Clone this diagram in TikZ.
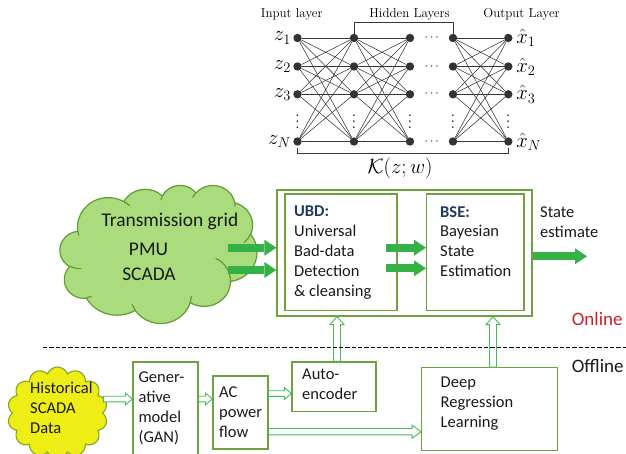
\documentclass[tikz,border=0pt]{standalone}
\usepackage{fontspec}
\newfontfamily\sansfont{Carlito}
\usetikzlibrary{shapes.symbols,arrows.meta,calc}

\definecolor{boxgreen}{RGB}{108,163,62}
\definecolor{cloudfill}{RGB}{170,220,125}
\definecolor{cloudline}{RGB}{98,156,48}
\definecolor{fatgreen}{RGB}{52,178,72}
\definecolor{hollowgreen}{RGB}{72,188,86}
\definecolor{sunny}{RGB}{238,238,22}
\definecolor{sunnyline}{RGB}{130,165,40}
\definecolor{navy}{RGB}{32,56,100}
\definecolor{onlinered}{RGB}{200,32,40}
\definecolor{nngray}{RGB}{55,55,55}
\definecolor{ink}{RGB}{25,25,25}

\tikzset{
  neuron/.style={circle, fill=black!80, inner sep=0pt, minimum size=8.4pt},
  synapse/.style={draw=nngray, line width=0.55pt},
  bracketline/.style={draw=nngray, line width=0.7pt},
  nnlabel/.style={font=\fontsize{13}{15}\selectfont, inner sep=0pt},
  nnmath/.style={font=\fontsize{21}{24}\selectfont, inner sep=1pt},
  gbox/.style={draw=boxgreen, line width=1.3pt, inner sep=0pt},
  btext/.style={font=\sansfont\fontsize{16.5}{19.8}\selectfont, text=ink, align=left, inner sep=0pt, anchor=north west},
  bltext/.style={font=\sansfont\fontsize{16.5}{20}\selectfont, text=ink, align=left, inner sep=0pt, anchor=north west},
  ctext/.style={font=\sansfont\fontsize{19.4}{23}\selectfont, text=ink, inner sep=0pt, anchor=base},
  fat/.style={draw=fatgreen, line width=8pt, -{Triangle[length=12pt, width=16pt, line width=0pt]}},
  hollow/.style n args={3}{draw=hollowgreen, line width=0.9pt, fill=white, line join=miter,
    to path={let \p1=(\tikztostart), \p2=(\tikztotarget),
      \n1={atan2(\y2-\y1,\x2-\x1)}, \n2={veclen(\x2-\x1,\y2-\y1)} in
      {[shift={(\p1)}, rotate=\n1]
        (0pt,#1pt) -- ({(\n2-#3)*1pt},#1pt) -- ({(\n2-#3)*1pt},#2pt) -- ({\n2*1pt},0pt)
        -- ({(\n2-#3)*1pt},-#2pt) -- ({(\n2-#3)*1pt},-#1pt) -- (0pt,-#1pt) -- cycle}}},
  % elliptic arc given by its ray start angle and sweep
  puff/.style n args={4}{start angle={atan2(#1*sin(#3),#2*cos(#3))},
    delta angle={#4 + Mod(atan2(#1*sin(#3+#4),#2*cos(#3+#4)) - atan2(#1*sin(#3),#2*cos(#3)) - #4 + 180, 360) - 180},
    x radius=#1, y radius=#2},
}

\begin{document}
\begin{tikzpicture}[x=1pt,y=-1pt]
\useasboundingbox (0,0) rectangle (626,454);

% ---------------- neural network ----------------
\foreach \c/\x in {i/297.5,a/354,b/410,c/453,o/508.3}
  \foreach \r/\y in {1/38,2/66.5,3/94.3,N/141.5}
    \node[neuron] (\c\r) at (\x,\y) {};
\foreach \s/\t in {i/a,a/b,c/o}
  \foreach \p in {1,2,3,N}
    \foreach \q in {1,2,3,N}
      \draw[synapse] (\s\p) -- (\t\q);
\foreach \r/\y in {1/38,2/66.5,3/94.3,N/141.5}
  \node[font=\fontsize{12}{14}\selectfont, inner sep=0pt] (hd\r) at (431.7,\y) {$\cdots$};
\foreach \c/\x in {i/297.5,a/354,b/410,c/453,o/508.3}
  \node[inner sep=0pt] (vd\c) at (\x,117.5) {\scalebox{1.5}{$\vdots$}};

\foreach \r/\s in {1/1,2/2,3/3,N/N}{
  \node[nnmath, anchor=east, xshift=-1pt] (zl\r) at (i\r.west) {$z_{\s}$};
  \node[nnmath, anchor=west, xshift=2.5pt] (xl\r) at (o\r.east) {$\hat{x}_{\s}$};
}

\node[nnlabel, anchor=base] (inlab) at (291.7,18) {Input layer};
\node[nnlabel, anchor=base] (hidlab) at (409.5,18) {Hidden Layers};
\node[nnlabel, anchor=base] (outlab) at (521.5,18) {Output Layer};

\draw[bracketline] (a1.north) -- ++(0,-10.8) -| (c1.north);
\draw[bracketline] (iN.south) ++(0,2) -- ++(0,5.6) -| ($(oN.south)+(0,2)$);
\node[nnmath, font=\fontsize{22}{25}\selectfont] (kmap) at (400,168) {$\mathcal{K}(z;w)$};

% ---------------- online part ----------------
% cloud outline and its inner seams, in a 432 x 432 frame
\begin{scope}[shift={(60,185)}, x=0.45602pt, y=-0.31944pt]
  \draw[draw=cloudline, fill=cloudfill, line width=1.2pt] (39,143.7)
    \foreach \w/\h/\a/\s in {67.53/91.90/-190.4875/123.7805, 53.33/72.67/-144.1024/89.9452,
      43.65/59.45/-145.8079/99.7230, 48.57/65.95/-130.9861/117.2417,
      53.33/72.73/-78.7089/109.0269, 67.75/92.20/-46.2673/130.2690,
      57.85/78.67/0.6250/114.0333, 67.52/92.15/22.4516/115.1726,
      77.20/105.43/66.2426/75.7110, 43.60/59.18/-274.9421/146.7356,
      43.45/59.45/-246.8285/152.5189}
    { arc[puff={\w}{\h}{\a}{\s}] } -- cycle;
  \draw[draw=cloudline, line width=1.2pt]
    \foreach \px/\py/\w/\h/\a/\s in {46.93/261.77/43.45/59.45/86.742/26.4295,
      69.28/348.99/43.60/59.18/73.6105/11.4475, 164.78/390.90/67.52/92.15/137.6242/14.0811,
      288.27/347.51/67.52/92.15/6.4533/15.9984, 341.29/229.54/57.85/78.67/-70.2924/70.9174,
      417.98/153.54/53.33/72.73/30.318/27.7515, 383.24/54.26/48.57/65.95/-13.7443/14.8589,
      290.78/39.52/48.57/65.95/-149.1815/18.1954, 221.41/47.20/43.65/59.45/-163.4943/17.6864,
      140.00/51.92/67.53/91.90/-66.7070/12.3194, 41.27/157.89/67.53/91.90/157.6544/11.8582}
    { (\px,\py) arc[puff={\w}{\h}{\a}{\s}] };
\end{scope}
\coordinate (grid) at (158.5,254);
\node[ctext] (tg) at (170,226.5) {Transmission grid};
\node[ctext] (pmu) at (148.5,256) {PMU};
\node[ctext] (scada) at (149,280.5) {SCADA};

\node[gbox, minimum width=255pt, minimum height=126pt] (outer) at (404.5,253) {};
\node[gbox, minimum width=112pt, minimum height=116.5pt] (ubd) at (341,252.2) {};
\node[gbox, minimum width=97.3pt, minimum height=116.7pt] (bse) at (475.3,252.3) {};

\node[btext] (ubdtext) at (294,206) {\textcolor{navy}{\textbf{UBD:}}\\Universal\\Bad-data\\Detection\\\& cleansing};
\node[btext] (bsetext) at (440,206) {\textcolor{navy}{\textbf{BSE:}}\\Bayesian\\State\\Estimation};
\node[btext] (stest) at (540,207) {State\\estimate};

\coordinate (f1) at (228,247.7);
\coordinate (f2) at (228,270);
\coordinate (m1) at (386,247.7);
\coordinate (m2) at (386,268.3);
\coordinate (se) at (587,256.3);
\draw[fat] (f1) -- (f1 -| outer.west);
\draw[fat] (f2) -- (f2 -| outer.west);
\draw[fat] (m1) -- (m1 -| bse.west);
\draw[fat] (m2) -- (m2 -| bse.west);
\draw[fat] (se -| outer.east) -- (se);

\node[font=\sansfont\fontsize{19}{22}\selectfont, text=onlinered, anchor=base west, inner sep=0pt] (online) at (571.7,325) {Online};
\node[font=\sansfont\fontsize{19}{22}\selectfont, text=ink, anchor=base west, inner sep=0pt] (offline) at (571.7,372.7) {Offline};

% ---------------- offline part ----------------
\node[cloud, cloud puffs=14, cloud puff arc=140, cloud ignores aspect,
      draw=sunnyline, fill=sunny, line width=1.1pt,
      minimum width=100pt, minimum height=92pt] (hist) at (57.5,413) {};
\node[bltext] (histtext) at (30,382) {Historical\\SCADA\\Data};

\node[gbox, minimum width=65pt, minimum height=98pt] (gen) at (165.5,411) {};
\node[gbox, minimum width=55pt, minimum height=73pt] (ac) at (240.5,412.5) {};
\node[gbox, minimum width=84pt, minimum height=49.7pt] (auto) at (334,386.8) {};
\node[gbox, minimum width=136pt, minimum height=83pt] (deep) at (489.8,409.3) {};

\node[bltext] (gentext) at (138.3,371.5) {Gener-\\ative\\model\\(GAN)};
\node[bltext] (actext) at (219,386.5) {AC\\power\\flow};
\node[bltext] (autotext) at (302,369) {Auto-\\encoder};
\node[bltext] (deeptext) at (440.5,377) {Deep\\Regression\\Learning};

\coordinate (y1) at (0,399);
\coordinate (y2) at (0,393.5);
\coordinate (y3) at (0,431.7);
\coordinate (xa) at (337,0);
\coordinate (xb) at (493,0);
\draw[hollow={2.8}{6}{7}] (hist.east |- y1) to (gen.west |- y1);
\draw[hollow={2.8}{6}{7}] (gen.east |- y1) to (ac.west |- y1);
\draw[hollow={2.8}{6}{7}] (ac.east |- y2) to (auto.west |- y2);
\draw[hollow={3.2}{6.5}{9}] (ac.east |- y3) to (deep.west |- y3);
\draw[hollow={3.5}{7}{8}] (auto.north -| xa) to (outer.south -| xa);
\draw[hollow={3.5}{7}{8}] (deep.north -| xb) to (outer.south -| xb);

\coordinate (dl) at (43,347.5);
\coordinate (dr) at (626,347.5);
\draw[dash pattern=on 4.3pt off 2pt, line width=1.1pt] (dl) -- (dr);
\end{tikzpicture}
\end{document}
